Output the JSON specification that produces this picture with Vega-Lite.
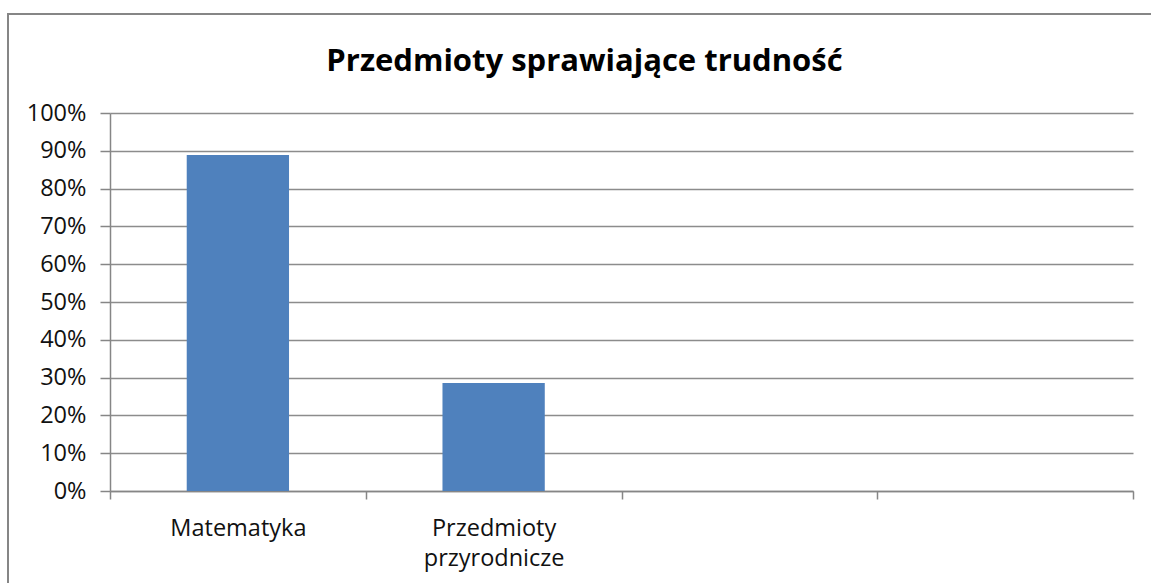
{
  "$schema": "https://vega.github.io/schema/vega-lite/v6.json",
  "width": 1145,
  "height": 571,
  "autosize": {"type": "none"},
  "padding": {"left": 8, "top": 14, "right": -2, "bottom": -2},
  "background": "white",
  "config": {
    "view": {"stroke": "#868686", "strokeWidth": 2, "fill": "white"},
    "font": "Open Sans"
  },
  "title": {
    "text": "Przedmioty sprawiające trudność",
    "font": "Open Sans",
    "fontWeight": "bold",
    "fontSize": 31,
    "color": "#000000",
    "anchor": "middle",
    "frame": "group",
    "baseline": "alphabetic",
    "offset": -88,
    "dx": 4
  },
  "data": {
    "values": [
      {"przedmiot": "Matematyka", "udzial": 0.889},
      {"przedmiot": "Przedmioty przyrodnicze", "udzial": 0.286}
    ]
  },
  "mark": {"type": "bar", "color": "#4F81BD", "width": {"band": 0.4}},
  "encoding": {
    "x": {
      "field": "przedmiot",
      "type": "nominal",
      "sort": null,
      "scale": {
        "domain": ["Matematyka", "Przedmioty przyrodnicze", " ", "  "],
        "range": [102, 1125],
        "paddingInner": 0,
        "paddingOuter": 0
      },
      "axis": {
        "title": null,
        "orient": "bottom",
        "offset": -94,
        "tickBand": "extent",
        "tickSize": 8,
        "tickColor": "#868686",
        "tickWidth": 1.5,
        "domainColor": "#868686",
        "domainWidth": 1.5,
        "grid": false,
        "labelAngle": 0,
        "labelFont": "Open Sans",
        "labelFontSize": 23.5,
        "labelColor": "#111111",
        "labelPadding": 17,
        "labelLineHeight": 30,
        "labelExpr": "split(datum.label, ' ')"
      }
    },
    "y": {
      "field": "udzial",
      "type": "quantitative",
      "scale": {"domain": [0, 1], "range": [477, 99], "nice": false},
      "axis": {
        "title": null,
        "orient": "left",
        "offset": -102,
        "values": [0, 0.1, 0.2, 0.3, 0.4, 0.5, 0.6, 0.7, 0.8, 0.9, 1],
        "format": ".0%",
        "tickSize": 10,
        "tickColor": "#868686",
        "tickWidth": 1.5,
        "domainColor": "#868686",
        "domainWidth": 1.5,
        "grid": true,
        "gridColor": "#8c8c8c",
        "gridWidth": 1.5,
        "labelFont": "Open Sans",
        "labelFontSize": 23.5,
        "labelColor": "#111111",
        "labelPadding": 14
      }
    }
  }
}
